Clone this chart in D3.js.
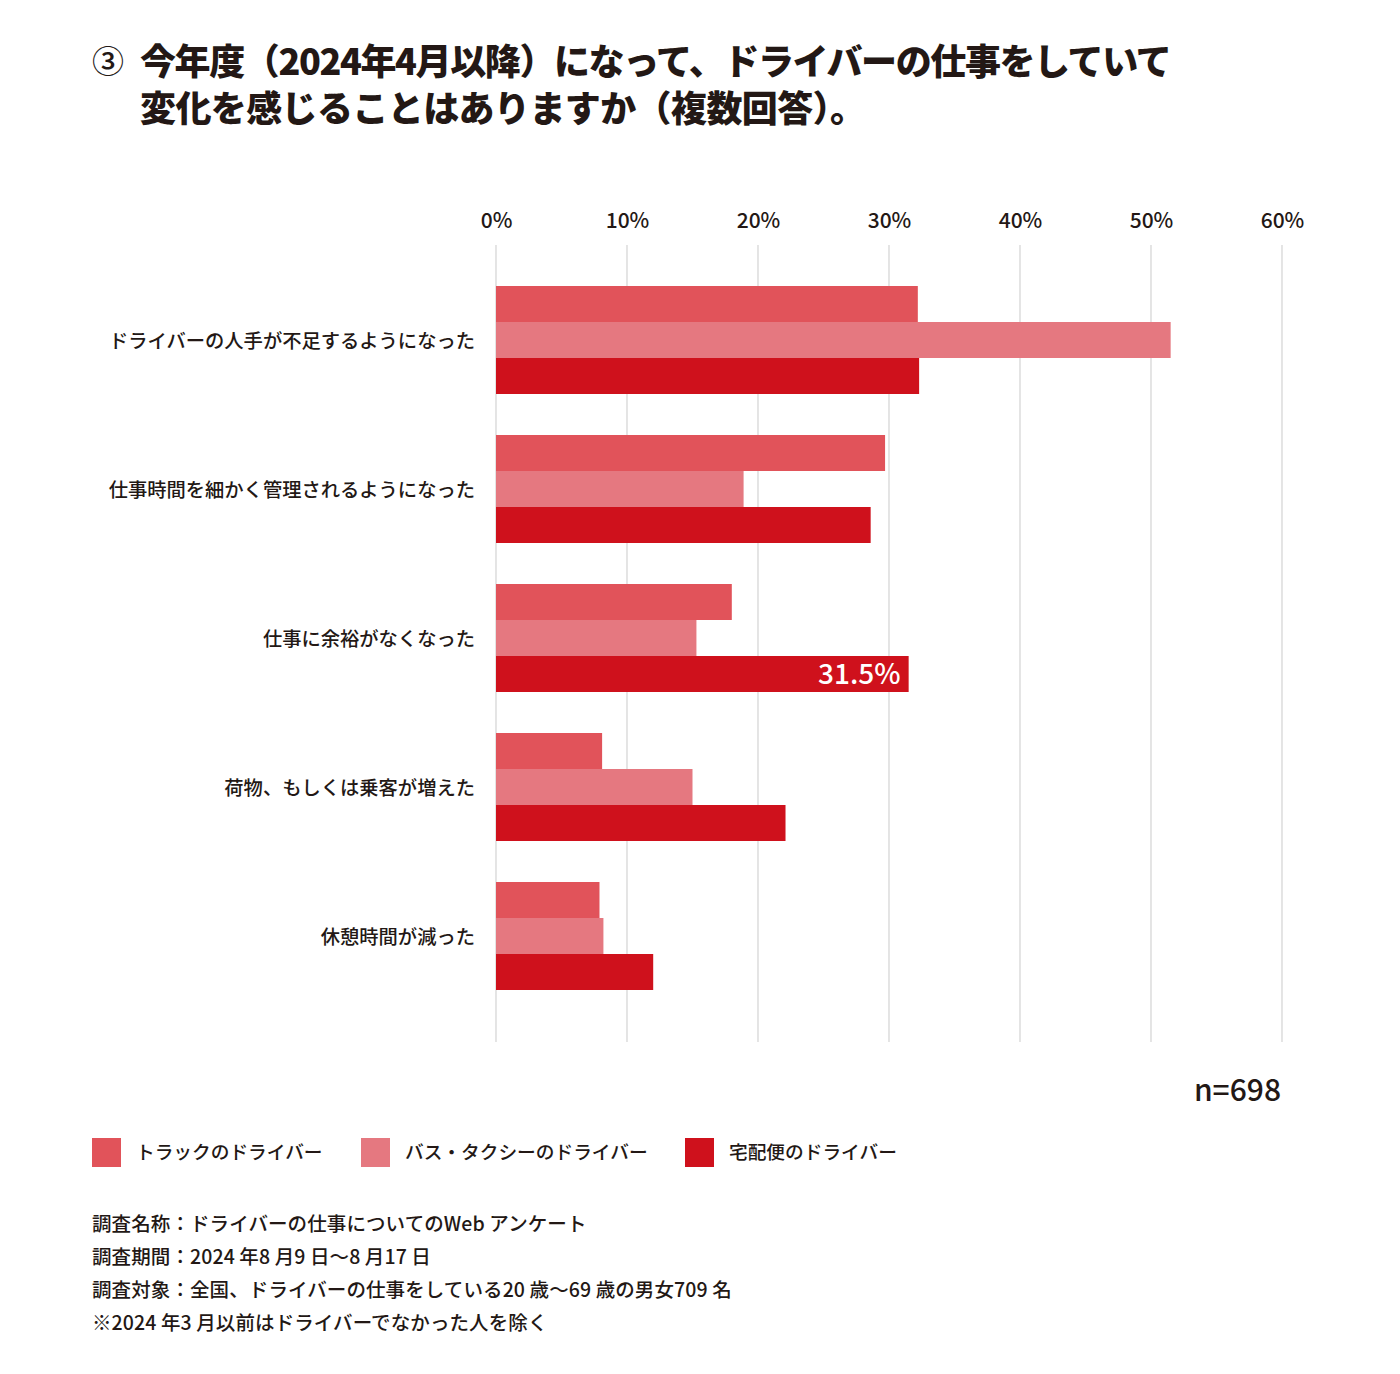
<!DOCTYPE html>
<html><head><meta charset="utf-8">
<script src="https://cdn.jsdelivr.net/npm/d3@7"></script>
<style>
html,body{margin:0;padding:0;background:#fff;}
svg{display:block;font-family:"Noto Sans CJK JP","Noto Sans",sans-serif;}
</style></head>
<body><svg id="c" width="1400" height="1374"></svg>
<script>
const categories = ["ドライバーの人手が不足するようになった","仕事時間を細かく管理されるようになった","仕事に余裕がなくなった","荷物、もしくは乗客が増えた","休憩時間が減った"];
const seriesNames = ["トラックのドライバー","バス・タクシーのドライバー","宅配便のドライバー"];
const truck = [32.2, 29.7, 18.0, 8.1, 7.9];
const busTaxi = [51.5, 18.9, 15.3, 15.0, 8.2];
const delivery = [32.3, 28.6, 31.5, 22.1, 12.0];
const tickValues = [0,10,20,30,40,50,60];
const colors = ["#e1535a","#e57880","#cf111c"];
const titleLines = ["今年度（2024年4月以降）になって、ドライバーの仕事をしていて","変化を感じることはありますか（複数回答）。"];
const notes = ["調査名称：ドライバーの仕事についてのWeb アンケート","調査期間：2024 年8 月9 日〜8 月17 日","調査対象：全国、ドライバーの仕事をしている20 歳〜69 歳の男女709 名","※2024 年3 月以前はドライバーでなかった人を除く"];
const sampleLabel = "n=698";
const highlight = {cat: 2, series: 2, text: "31.5%"};

const svg = d3.select("#c");
const series = [truck, busTaxi, delivery];
const ink = "#231815";

// title
svg.append("text").attr("x",92).attr("y",73).attr("font-size",32).attr("font-weight",500).attr("fill",ink).text("③");
const titleSpacing = [-1.4, -0.6];
svg.selectAll("text.title").data(titleLines).join("text").attr("class","title")
  .attr("x",140).attr("y",(d,i)=>75+i*47).attr("font-size",36).attr("font-weight",900)
  .attr("fill",ink).attr("letter-spacing",(d,i)=>titleSpacing[i]).text(d=>d);

const x = d3.scaleLinear().domain([0,60]).range([496,1282]);
const y0 = d3.scaleBand().domain(d3.range(categories.length)).range([286,990]).paddingInner(41/149).paddingOuter(0);
const y1 = d3.scaleBand().domain(d3.range(3)).range([0,y0.bandwidth()]);

// gridlines
svg.append("g").selectAll("line").data(tickValues).join("line")
  .attr("x1",d=>x(d)).attr("x2",d=>x(d)).attr("y1",245).attr("y2",1042)
  .attr("stroke","#d3d3d3").attr("stroke-width",1.2);

// axis labels
const axis = d3.axisTop(x).tickValues(tickValues).tickFormat(d=>d+"%").tickSize(0);
const ag = svg.append("g").attr("transform","translate(0,231)").call(axis);
ag.select(".domain").remove();
ag.selectAll("text").attr("font-size",21).attr("font-weight",500).attr("fill",ink)
  .attr("font-family","'Noto Sans CJK JP',sans-serif");

// bars
const groups = svg.append("g").selectAll("g").data(categories).join("g")
  .attr("transform",(d,i)=>`translate(0,${y0(i)})`);
groups.selectAll("rect").data((d,i)=>series.map((s,j)=>({v:s[i],j}))).join("rect")
  .attr("x",x(0)).attr("y",d=>y1(d.j)).attr("height",y1.bandwidth())
  .attr("width",d=>x(d.v)-x(0)).attr("fill",d=>colors[d.j]);

// category labels
svg.append("g").selectAll("text").data(categories).join("text")
  .attr("x",475).attr("y",(d,i)=>y0(i)+y0.bandwidth()/2+1.5).attr("dy","0.35em")
  .attr("text-anchor","end").attr("font-size",19.3).attr("font-weight",500).attr("fill",ink)
  .text(d=>d);

// highlight label
svg.append("text")
  .attr("x",x(delivery[highlight.cat])-8)
  .attr("y",y0(highlight.cat)+y1(highlight.series)+y1.bandwidth()/2).attr("dy","0.36em")
  .attr("text-anchor","end").attr("font-size",28).attr("font-weight",500).attr("fill","#fff")
  .text(highlight.text);

// n label
svg.append("text").attr("x",1281).attr("y",1101).attr("text-anchor","end")
  .attr("font-size",30).attr("font-weight",500).attr("fill",ink).text(sampleLabel);

// legend
const legX = [92,361,685];
const lg = svg.append("g").selectAll("g").data(seriesNames).join("g")
  .attr("transform",(d,i)=>`translate(${legX[i]},1138)`);
lg.append("rect").attr("width",29).attr("height",29).attr("fill",(d,i)=>colors[i]);
lg.append("text").attr("x",44).attr("y",14.5).attr("dy","0.36em").attr("font-size",18.7)
  .attr("font-weight",500).attr("fill",ink).text(d=>d);

// notes
svg.append("g").selectAll("text").data(notes).join("text")
  .attr("x",92).attr("y",(d,i)=>1231+i*33).attr("font-size",19.5).attr("font-weight",500)
  .attr("fill",ink).attr("letter-spacing",0.1).text(d=>d);
</script></body></html>
